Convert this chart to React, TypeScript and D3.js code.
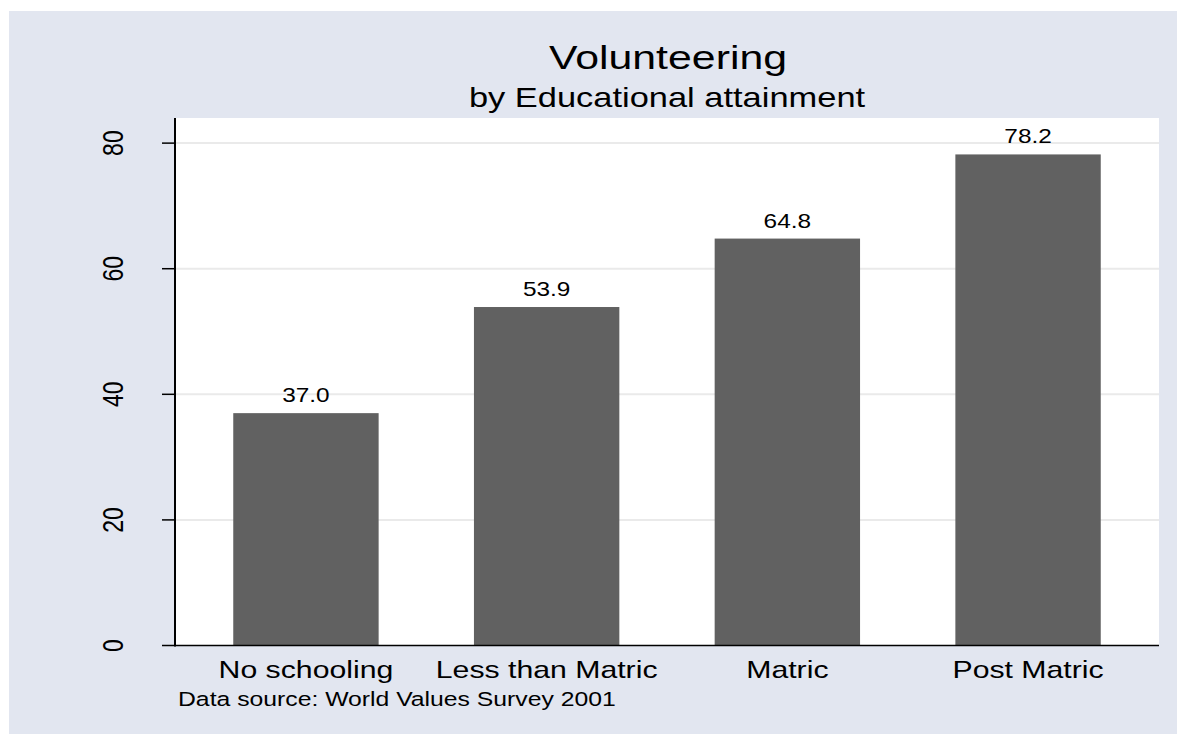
import React from "react";
import * as d3 from "d3";

// Volunteering rate (%) by educational attainment
const categories: string[] = ["No schooling", "Less than Matric", "Matric", "Post Matric"];
const values: number[] = [37.0, 53.9, 64.8, 78.2];
const yTicks: number[] = [0, 20, 40, 60, 80];

const titleText = "Volunteering";
const subtitleText = "by Educational attainment";
const noteText = "Data source: World Values Survey 2001";

const WIDTH = 1177;
const HEIGHT = 734;
const FONT = "'Liberation Sans', Arial, Helvetica, sans-serif";
const SX = 1.25; // horizontal stretch applied to all text

const plot = { left: 175, right: 1159, top: 118, bottom: 645.5 };

type STProps = {
  x: number;
  y: number;
  size: number;
  anchor?: "start" | "middle" | "end";
  rotate?: number;
  sx?: number;
  children: React.ReactNode;
};

function StretchText({ x, y, size, anchor = "middle", rotate = 0, sx = SX, children }: STProps) {
  return (
    <g transform={`translate(${x},${y}) scale(${sx},1)${rotate ? ` rotate(${rotate})` : ""}`}>
      <text x={0} y={0} fontSize={size} fontFamily={FONT} textAnchor={anchor} fill="#000">
        {children}
      </text>
    </g>
  );
}

export default function App() {
  const x = d3
    .scaleBand<string>()
    .domain(categories)
    .range([plot.left, plot.right])
    .paddingInner(0.396)
    .paddingOuter(0.242);

  const y = d3.scaleLinear().domain([0, 84]).range([plot.bottom, plot.top]);

  return (
    <svg
      width={WIDTH}
      height={HEIGHT}
      style={{ position: "absolute", left: 0, top: 0, display: "block" }}
    >
      <rect x={0} y={0} width={WIDTH} height={HEIGHT} fill="#ffffff" />
      {/* graph region */}
      <rect x={9} y={11} width={WIDTH - 9} height={HEIGHT - 11} fill="#e2e6f0" />
      {/* plot region */}
      <rect
        x={plot.left}
        y={plot.top}
        width={plot.right - plot.left}
        height={plot.bottom - plot.top}
        fill="#ffffff"
      />

      {/* horizontal grid lines */}
      {yTicks
        .filter((t) => t > 0)
        .map((t) => (
          <line
            key={`g${t}`}
            x1={plot.left}
            x2={plot.right}
            y1={y(t)}
            y2={y(t)}
            stroke="#eaeaea"
            strokeWidth={2}
          />
        ))}

      {/* bars */}
      {categories.map((c, i) => (
        <rect
          key={c}
          x={x(c)!}
          y={y(values[i])}
          width={x.bandwidth()}
          height={y(0) - y(values[i])}
          fill="#616161"
        />
      ))}

      {/* value labels */}
      {categories.map((c, i) => (
        <StretchText
          key={`v${c}`}
          x={x(c)! + x.bandwidth() / 2}
          y={y(values[i]) - 11}
          size={20}
          sx={1.22}
        >
          {values[i].toFixed(1)}
        </StretchText>
      ))}

      {/* y axis */}
      <line x1={plot.left} x2={plot.left} y1={plot.top} y2={plot.bottom + 1} stroke="#000" strokeWidth={2} />
      {yTicks.map((t) => (
        <g key={`t${t}`}>
          <line x1={plot.left - 13} x2={plot.left} y1={y(t)} y2={y(t)} stroke="#000" strokeWidth={1.5} />
          <StretchText x={123} y={y(t)} size={23} rotate={-90} sx={1.28}>
            {t}
          </StretchText>
        </g>
      ))}

      {/* x axis */}
      <line x1={plot.left} x2={plot.right} y1={plot.bottom} y2={plot.bottom} stroke="#000" strokeWidth={1.5} />
      {categories.map((c) => (
        <StretchText key={`c${c}`} x={x(c)! + x.bandwidth() / 2} y={678} size={24} sx={1.26}>
          {c}
        </StretchText>
      ))}

      {/* titles */}
      <StretchText x={(plot.left + plot.right) / 2 + 1} y={69} size={34} sx={1.26}>
        {titleText}
      </StretchText>
      <StretchText x={(plot.left + plot.right) / 2} y={107} size={28} sx={1.23}>
        {subtitleText}
      </StretchText>

      {/* note */}
      <StretchText x={178} y={706} size={19.5} anchor="start" sx={1.27}>
        {noteText}
      </StretchText>
    </svg>
  );
}
